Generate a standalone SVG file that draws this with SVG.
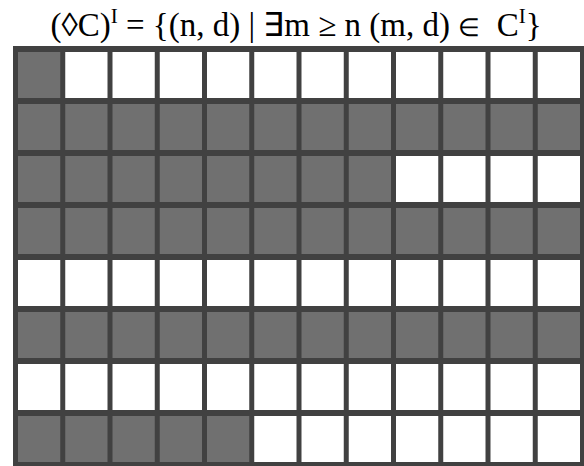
<svg xmlns="http://www.w3.org/2000/svg" width="584" height="466" viewBox="0 0 584 466">
<style>
.t{font-family:"Liberation Serif","Times New Roman",serif;font-size:33px;fill:#000}
.s{font-size:21px}
.e{font-size:25px}
.g{fill:#707070}
.w{fill:#ffffff}
</style>
<rect x="0" y="0" width="584" height="466" fill="#ffffff"/>
<g id="title">
<text class="t" x="296" y="36" text-anchor="middle" xml:space="preserve">(◊C)<tspan class="s" dy="-13">I</tspan><tspan dy="13"> = {(n, d) | ∃m ≥ n (m, d) </tspan><tspan class="e">∈</tspan><tspan>  C</tspan><tspan class="s" dy="-13">I</tspan><tspan dy="13">}</tspan></text>
</g>
<g id="grid">
<rect x="13" y="46" width="572" height="421" fill="#414141"/>
<g id="row0">
<rect class="g" x="18" y="52" width="42.25" height="46"/>
<rect class="w" x="65.25" y="52" width="42.25" height="46"/>
<rect class="w" x="112.5" y="52" width="42.25" height="46"/>
<rect class="w" x="159.75" y="52" width="42.25" height="46"/>
<rect class="w" x="207" y="52" width="42.25" height="46"/>
<rect class="w" x="254.25" y="52" width="42.25" height="46"/>
<rect class="w" x="301.5" y="52" width="42.25" height="46"/>
<rect class="w" x="348.75" y="52" width="42.25" height="46"/>
<rect class="w" x="396" y="52" width="42.25" height="46"/>
<rect class="w" x="443.25" y="52" width="42.25" height="46"/>
<rect class="w" x="490.5" y="52" width="42.25" height="46"/>
<rect class="w" x="537.75" y="52" width="42.25" height="46"/>
</g>
<g id="row1">
<rect class="g" x="18" y="104" width="42.25" height="46"/>
<rect class="g" x="65.25" y="104" width="42.25" height="46"/>
<rect class="g" x="112.5" y="104" width="42.25" height="46"/>
<rect class="g" x="159.75" y="104" width="42.25" height="46"/>
<rect class="g" x="207" y="104" width="42.25" height="46"/>
<rect class="g" x="254.25" y="104" width="42.25" height="46"/>
<rect class="g" x="301.5" y="104" width="42.25" height="46"/>
<rect class="g" x="348.75" y="104" width="42.25" height="46"/>
<rect class="g" x="396" y="104" width="42.25" height="46"/>
<rect class="g" x="443.25" y="104" width="42.25" height="46"/>
<rect class="g" x="490.5" y="104" width="42.25" height="46"/>
<rect class="g" x="537.75" y="104" width="42.25" height="46"/>
</g>
<g id="row2">
<rect class="g" x="18" y="156" width="42.25" height="46"/>
<rect class="g" x="65.25" y="156" width="42.25" height="46"/>
<rect class="g" x="112.5" y="156" width="42.25" height="46"/>
<rect class="g" x="159.75" y="156" width="42.25" height="46"/>
<rect class="g" x="207" y="156" width="42.25" height="46"/>
<rect class="g" x="254.25" y="156" width="42.25" height="46"/>
<rect class="g" x="301.5" y="156" width="42.25" height="46"/>
<rect class="g" x="348.75" y="156" width="42.25" height="46"/>
<rect class="w" x="396" y="156" width="42.25" height="46"/>
<rect class="w" x="443.25" y="156" width="42.25" height="46"/>
<rect class="w" x="490.5" y="156" width="42.25" height="46"/>
<rect class="w" x="537.75" y="156" width="42.25" height="46"/>
</g>
<g id="row3">
<rect class="g" x="18" y="208" width="42.25" height="46"/>
<rect class="g" x="65.25" y="208" width="42.25" height="46"/>
<rect class="g" x="112.5" y="208" width="42.25" height="46"/>
<rect class="g" x="159.75" y="208" width="42.25" height="46"/>
<rect class="g" x="207" y="208" width="42.25" height="46"/>
<rect class="g" x="254.25" y="208" width="42.25" height="46"/>
<rect class="g" x="301.5" y="208" width="42.25" height="46"/>
<rect class="g" x="348.75" y="208" width="42.25" height="46"/>
<rect class="g" x="396" y="208" width="42.25" height="46"/>
<rect class="g" x="443.25" y="208" width="42.25" height="46"/>
<rect class="g" x="490.5" y="208" width="42.25" height="46"/>
<rect class="g" x="537.75" y="208" width="42.25" height="46"/>
</g>
<g id="row4">
<rect class="w" x="18" y="260" width="42.25" height="46"/>
<rect class="w" x="65.25" y="260" width="42.25" height="46"/>
<rect class="w" x="112.5" y="260" width="42.25" height="46"/>
<rect class="w" x="159.75" y="260" width="42.25" height="46"/>
<rect class="w" x="207" y="260" width="42.25" height="46"/>
<rect class="w" x="254.25" y="260" width="42.25" height="46"/>
<rect class="w" x="301.5" y="260" width="42.25" height="46"/>
<rect class="w" x="348.75" y="260" width="42.25" height="46"/>
<rect class="w" x="396" y="260" width="42.25" height="46"/>
<rect class="w" x="443.25" y="260" width="42.25" height="46"/>
<rect class="w" x="490.5" y="260" width="42.25" height="46"/>
<rect class="w" x="537.75" y="260" width="42.25" height="46"/>
</g>
<g id="row5">
<rect class="g" x="18" y="312" width="42.25" height="46"/>
<rect class="g" x="65.25" y="312" width="42.25" height="46"/>
<rect class="g" x="112.5" y="312" width="42.25" height="46"/>
<rect class="g" x="159.75" y="312" width="42.25" height="46"/>
<rect class="g" x="207" y="312" width="42.25" height="46"/>
<rect class="g" x="254.25" y="312" width="42.25" height="46"/>
<rect class="g" x="301.5" y="312" width="42.25" height="46"/>
<rect class="g" x="348.75" y="312" width="42.25" height="46"/>
<rect class="g" x="396" y="312" width="42.25" height="46"/>
<rect class="g" x="443.25" y="312" width="42.25" height="46"/>
<rect class="g" x="490.5" y="312" width="42.25" height="46"/>
<rect class="g" x="537.75" y="312" width="42.25" height="46"/>
</g>
<g id="row6">
<rect class="w" x="18" y="364" width="42.25" height="46"/>
<rect class="w" x="65.25" y="364" width="42.25" height="46"/>
<rect class="w" x="112.5" y="364" width="42.25" height="46"/>
<rect class="w" x="159.75" y="364" width="42.25" height="46"/>
<rect class="w" x="207" y="364" width="42.25" height="46"/>
<rect class="w" x="254.25" y="364" width="42.25" height="46"/>
<rect class="w" x="301.5" y="364" width="42.25" height="46"/>
<rect class="w" x="348.75" y="364" width="42.25" height="46"/>
<rect class="w" x="396" y="364" width="42.25" height="46"/>
<rect class="w" x="443.25" y="364" width="42.25" height="46"/>
<rect class="w" x="490.5" y="364" width="42.25" height="46"/>
<rect class="w" x="537.75" y="364" width="42.25" height="46"/>
</g>
<g id="row7">
<rect class="g" x="18" y="416" width="42.25" height="46"/>
<rect class="g" x="65.25" y="416" width="42.25" height="46"/>
<rect class="g" x="112.5" y="416" width="42.25" height="46"/>
<rect class="g" x="159.75" y="416" width="42.25" height="46"/>
<rect class="g" x="207" y="416" width="42.25" height="46"/>
<rect class="w" x="254.25" y="416" width="42.25" height="46"/>
<rect class="w" x="301.5" y="416" width="42.25" height="46"/>
<rect class="w" x="348.75" y="416" width="42.25" height="46"/>
<rect class="w" x="396" y="416" width="42.25" height="46"/>
<rect class="w" x="443.25" y="416" width="42.25" height="46"/>
<rect class="w" x="490.5" y="416" width="42.25" height="46"/>
<rect class="w" x="537.75" y="416" width="42.25" height="46"/>
</g>
</g>
</svg>
